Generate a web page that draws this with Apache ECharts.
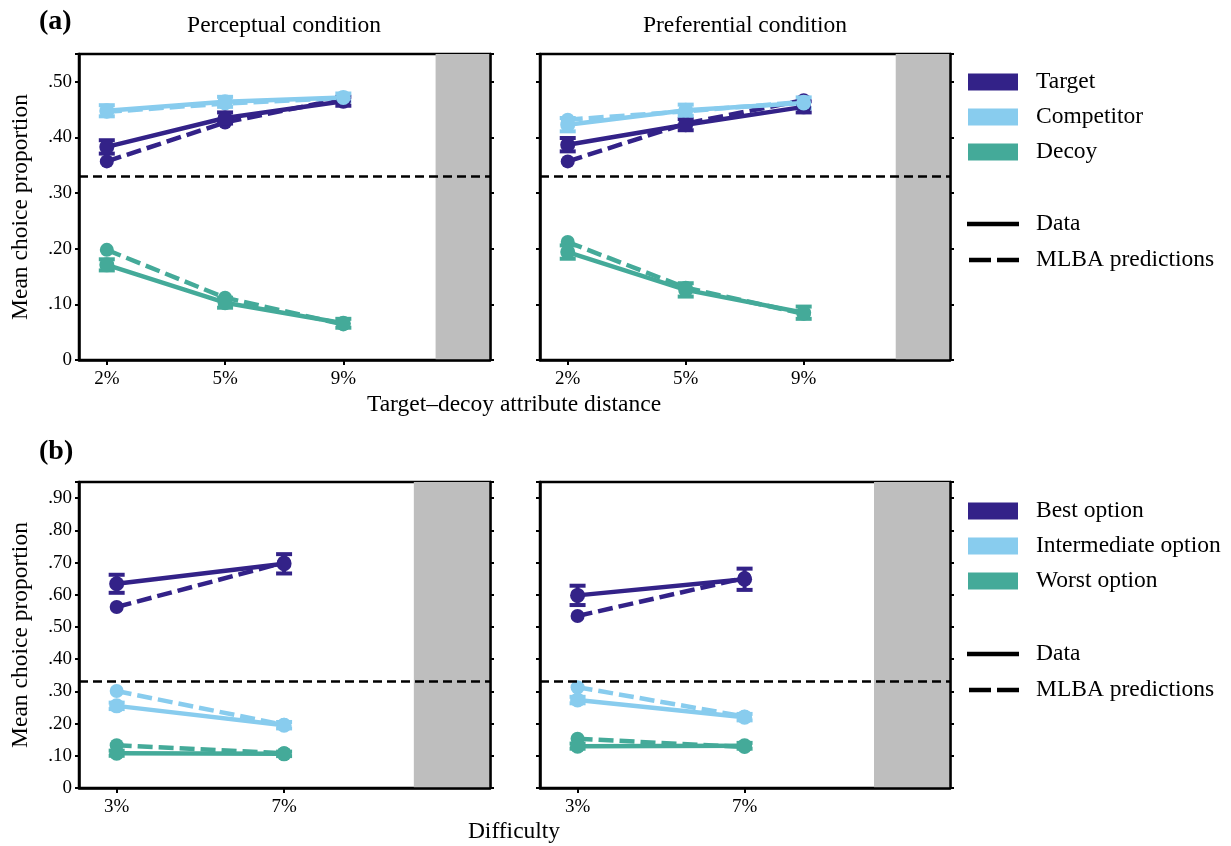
<!DOCTYPE html>
<html><head><meta charset="utf-8">
<script src="https://cdn.jsdelivr.net/npm/echarts@6/dist/echarts.min.js"></script>
<style>html,body{margin:0;padding:0;background:#fff}#c{width:1231px;height:846px}</style>
</head><body><div id="c"></div>
<script>
// ---------- data ----------
const catsA = ['2%', '5%', '9%'];
const catsB = ['3%', '7%'];
const yLabelsA = ['0', '.10', '.20', '.30', '.40', '.50'];
const yLabelsB = ['0', '.10', '.20', '.30', '.40', '.50', '.60', '.70', '.80', '.90'];
const namesA = ['Target', 'Competitor', 'Decoy'];
const namesB = ['Best option', 'Intermediate option', 'Worst option'];
const lineNames = ['Data', 'MLBA predictions'];
const panelTitles = ['Perceptual condition', 'Preferential condition'];
const chance = 1 / 3;

// (a) perceptual
const percTargetData = [0.383, 0.435, 0.465];
const percTargetErr = [0.012, 0.010, 0.008];
const percTargetMLBA = [0.357, 0.427, 0.470];
const percCompData = [0.448, 0.464, 0.472];
const percCompErr = [0.010, 0.009, 0.007];
const percCompMLBA = [0.446, 0.461, 0.471];
const percDecoyData = [0.171, 0.103, 0.066];
const percDecoyErr = [0.010, 0.009, 0.008];
const percDecoyMLBA = [0.198, 0.112, 0.064];
// (a) preferential
const prefTargetData = [0.387, 0.423, 0.455];
const prefTargetErr = [0.012, 0.010, 0.010];
const prefTargetMLBA = [0.357, 0.425, 0.467];
const prefCompData = [0.423, 0.449, 0.462];
const prefCompErr = [0.012, 0.010, 0.010];
const prefCompMLBA = [0.432, 0.447, 0.464];
const prefDecoyData = [0.194, 0.126, 0.085];
const prefDecoyErr = [0.012, 0.012, 0.011];
const prefDecoyMLBA = [0.212, 0.130, 0.083];
// (b) perceptual
const diffPercBestData = [0.634, 0.696];
const diffPercBestErr = [0.028, 0.030];
const diffPercBestMLBA = [0.562, 0.700];
const diffPercInterData = [0.255, 0.195];
const diffPercInterErr = [0.010, 0.010];
const diffPercInterMLBA = [0.301, 0.196];
const diffPercWorstData = [0.108, 0.106];
const diffPercWorstErr = [0.008, 0.007];
const diffPercWorstMLBA = [0.133, 0.108];
// (b) preferential
const diffPrefBestData = [0.598, 0.648];
const diffPrefBestErr = [0.030, 0.033];
const diffPrefBestMLBA = [0.534, 0.652];
const diffPrefInterData = [0.273, 0.220];
const diffPrefInterErr = [0.010, 0.010];
const diffPrefInterMLBA = [0.313, 0.222];
const diffPrefWorstData = [0.130, 0.131];
const diffPrefWorstErr = [0.008, 0.009];
const diffPrefWorstMLBA = [0.153, 0.127];

// ---------- style / layout ----------
const FONT = 'Liberation Serif';
const COLORS = ['#332288', '#88CCEE', '#44AA99'];
const grids = [
  {left: 79, top: 54, width: 411, height: 306},
  {left: 540, top: 54, width: 410, height: 306},
  {left: 79, top: 482, width: 411, height: 306},
  {left: 540, top: 482, width: 410, height: 306}
];
const xRangeA = {min: -0.235, max: 3.24, gray: 2.78};
const xRangeB = {min: -0.225, max: 2.23, gray: 1.775};

const panels = [
  {cats: catsA, range: xRangeA, ymax: 0.55, ylabels: yLabelsA, showY: true,
   opts: [[percTargetData, percTargetErr, percTargetMLBA], [percCompData, percCompErr, percCompMLBA], [percDecoyData, percDecoyErr, percDecoyMLBA]]},
  {cats: catsA, range: xRangeA, ymax: 0.55, ylabels: yLabelsA, showY: false,
   opts: [[prefTargetData, prefTargetErr, prefTargetMLBA], [prefCompData, prefCompErr, prefCompMLBA], [prefDecoyData, prefDecoyErr, prefDecoyMLBA]]},
  {cats: catsB, range: xRangeB, ymax: 0.95, ylabels: yLabelsB, showY: true,
   opts: [[diffPercBestData, diffPercBestErr, diffPercBestMLBA], [diffPercInterData, diffPercInterErr, diffPercInterMLBA], [diffPercWorstData, diffPercWorstErr, diffPercWorstMLBA]]},
  {cats: catsB, range: xRangeB, ymax: 0.95, ylabels: yLabelsB, showY: false,
   opts: [[diffPrefBestData, diffPrefBestErr, diffPrefBestMLBA], [diffPrefInterData, diffPrefInterErr, diffPrefInterMLBA], [diffPrefWorstData, diffPrefWorstErr, diffPrefWorstMLBA]]}
];

const xAxes = [], yAxes = [], series = [];
panels.forEach((p, gi) => {
  const idx = p.cats.map((c, i) => i);
  xAxes.push({
    type: 'value', gridIndex: gi, min: p.range.min, max: p.range.max, z: 5,
    axisLine: {show: true, onZero: false, lineStyle: {color: '#000', width: 2.5}},
    axisTick: {show: true, customValues: idx, length: 5, lineStyle: {color: '#000', width: 2}},
    axisLabel: {customValues: idx, formatter: v => p.cats[Math.round(v)], fontFamily: FONT, fontSize: 19, color: '#000', margin: 10},
    splitLine: {show: false}
  });
});
panels.forEach((p, gi) => {
  yAxes.push({
    type: 'value', gridIndex: gi, min: 0, max: p.ymax, interval: 0.1, position: 'left', z: 5,
    name: p.showY ? 'Mean choice proportion' : '', nameLocation: 'middle', nameRotate: 90, nameGap: 46,
    nameTextStyle: {fontFamily: FONT, fontSize: 23.5, color: '#000'},
    axisLine: {show: true, onZero: false, lineStyle: {color: '#000', width: 2.5}},
    axisTick: {show: true, length: 4, lineStyle: {color: '#000', width: 2}},
    axisLabel: {show: p.showY, formatter: v => p.ylabels[Math.round(v * 10)], fontFamily: FONT, fontSize: 19, color: '#000', margin: 7},
    splitLine: {show: false}
  });
});
panels.forEach((p, gi) => {
  yAxes.push({
    type: 'value', gridIndex: gi, min: 0, max: p.ymax, interval: 0.1, position: 'right', z: 5,
    axisLine: {show: true, onZero: false, lineStyle: {color: '#000', width: 2.5}},
    axisTick: {show: true, length: 4, lineStyle: {color: '#000', width: 2}},
    axisLabel: {show: false}, splitLine: {show: false}
  });
});

function errRenderer(color) {
  return function (params, api) {
    const x = api.value(0), lo = api.value(1), hi = api.value(2);
    const a = api.coord([x, lo]), b = api.coord([x, hi]);
    const w = 8, st = {stroke: color, lineWidth: 4};
    return {type: 'group', children: [
      {type: 'line', shape: {x1: a[0], y1: a[1], x2: b[0], y2: b[1]}, style: st},
      {type: 'line', shape: {x1: a[0] - w, y1: a[1], x2: a[0] + w, y2: a[1]}, style: st},
      {type: 'line', shape: {x1: b[0] - w, y1: b[1], x2: b[0] + w, y2: b[1]}, style: st}
    ]};
  };
}

panels.forEach((p, gi) => {
  series.push({
    type: 'line', xAxisIndex: gi, yAxisIndex: gi, data: [], silent: true, z: 1,
    markArea: {silent: true, itemStyle: {color: '#bebebe'},
      data: [[{xAxis: p.range.gray, yAxis: 0}, {xAxis: p.range.max, yAxis: p.ymax}]]},
    markLine: {silent: true, symbol: 'none', label: {show: false},
      lineStyle: {color: '#000', type: [9, 5], width: 2.5},
      data: [{yAxis: chance}]}
  });
  p.opts.forEach((o, k) => {
    const [dat, err, mlba] = o;
    const color = COLORS[k];
    series.push({
      type: 'line', xAxisIndex: gi, yAxisIndex: gi, z: 3,
      data: mlba.map((v, i) => [i, v]),
      symbol: 'circle', symbolSize: 14, itemStyle: {color: color},
      lineStyle: {color: color, width: 4.5, type: [15, 6]}, silent: true
    });
    series.push({
      type: 'custom', xAxisIndex: gi, yAxisIndex: gi, z: 4,
      renderItem: errRenderer(color),
      data: dat.map((v, i) => [i, v - err[i], v + err[i]]), silent: true
    });
    series.push({
      type: 'line', xAxisIndex: gi, yAxisIndex: gi, z: 4,
      data: dat.map((v, i) => [i, v]),
      symbol: 'circle', symbolSize: 15, itemStyle: {color: color},
      lineStyle: {color: color, width: 4.5}, silent: true
    });
  });
});

// ---------- texts & legends ----------
const graphics = [];
function txt(x, y, s, opt) {
  graphics.push(Object.assign({type: 'text', x: x, y: y,
    style: Object.assign({text: s, fontFamily: FONT, fontSize: 23.5, fill: '#000', textVerticalAlign: 'middle'}, opt || {})}));
}
txt(39, 22, '(a)', {fontWeight: 'bold', fontSize: 28});
txt(39, 452, '(b)', {fontWeight: 'bold', fontSize: 28});
txt(284, 26, panelTitles[0], {textAlign: 'center'});
txt(745, 26, panelTitles[1], {textAlign: 'center'});
txt(514, 405, 'Target\u2013decoy attribute distance', {textAlign: 'center'});
txt(514, 832, 'Difficulty', {textAlign: 'center'});

function legend(names, ys, lineYs) {
  names.forEach((n, k) => {
    graphics.push({type: 'rect', shape: {x: 968, y: ys[k] - 8.5, width: 50, height: 17}, style: {fill: COLORS[k]}});
    txt(1036, ys[k], n);
  });
  graphics.push({type: 'line', shape: {x1: 967, y1: lineYs[0], x2: 1019, y2: lineYs[0]}, style: {stroke: '#000', lineWidth: 4.5}});
  graphics.push({type: 'line', shape: {x1: 969, y1: lineYs[1], x2: 1019, y2: lineYs[1]}, style: {stroke: '#000', lineWidth: 4.5, lineDash: [22, 6]}});
  txt(1036, lineYs[0], lineNames[0]);
  txt(1036, lineYs[1], lineNames[1]);
}
legend(namesA, [82, 117, 152], [224, 260]);
legend(namesB, [511, 546, 581], [654, 690]);

const chart = echarts.init(document.getElementById('c'), null, {renderer: 'canvas'});
chart.setOption({
  animation: false,
  backgroundColor: '#fff',
  grid: grids.map(g => Object.assign({show: true, borderColor: '#000', borderWidth: 2.5, backgroundColor: 'transparent'}, g)),
  xAxis: xAxes, yAxis: yAxes, series: series, graphic: graphics
});
</script></body></html>
